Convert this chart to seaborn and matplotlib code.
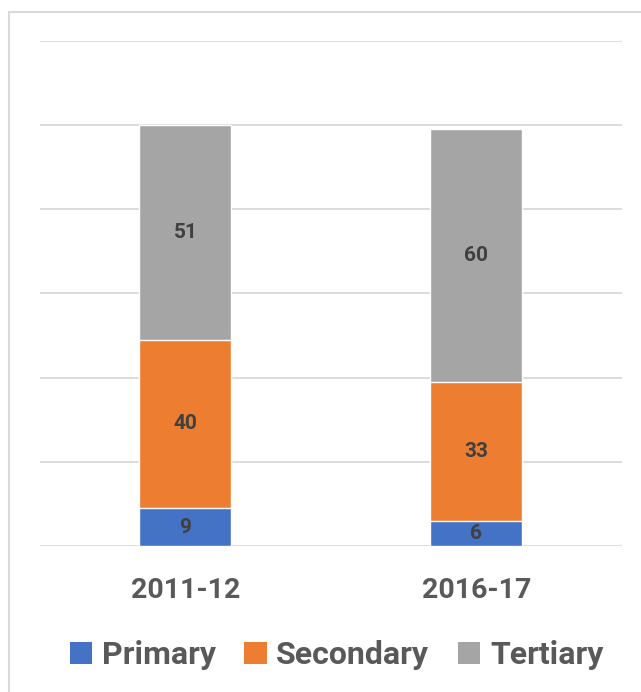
import numpy as np
import pandas as pd
import matplotlib
matplotlib.use('Agg')
import matplotlib.pyplot as plt
import seaborn as sns
from matplotlib.patches import Rectangle, Patch

years = ['2011-12', '2016-17']
primary = [9, 6]
secondary = [40, 33]
tertiary = [51, 60]
series_names = ['Primary', 'Secondary', 'Tertiary']
colors = ['#4472C4', '#ED7D31', '#A5A5A5']

sns.set_style('white')
plt.rcParams['font.family'] = ['Roboto', 'DejaVu Sans']

df = pd.DataFrame({'year': years, 'Primary': primary,
                   'Secondary': secondary, 'Tertiary': tertiary})
df['c1'] = df['Primary']
df['c2'] = df['c1'] + df['Secondary']
df['c3'] = df['c2'] + df['Tertiary']

fig = plt.figure(figsize=(6.41, 6.92), dpi=100)
ax = fig.add_axes([0.0624, 0.211, 0.9076, 0.7298])

# stacked: draw cumulative totals from top down
for col, c in zip(['c3', 'c2', 'c1'], colors[::-1]):
    sns.barplot(data=df, x='year', y=col, color=c, width=0.316,
                saturation=1, ax=ax, zorder=3)

ax.set_ylim(0, 120)
ax.set_xlim(-0.5, 1.5)
ax.set_yticks(np.arange(0, 121, 20))
ax.set_yticklabels([])
ax.yaxis.grid(True, color='#D9D9D9', lw=1.3, zorder=0)
ax.tick_params(length=0)
for s in ax.spines.values():
    s.set_visible(False)
ax.set_xlabel('')
ax.set_ylabel('')
ax.set_xticks([0, 1])
ax.set_xticklabels(years, fontsize=20.5, fontweight='bold', color='#595959')
ax.tick_params(axis='x', pad=22)

for i in range(len(years)):
    bottoms = [0, df['c1'][i], df['c2'][i]]
    vals = [primary[i], secondary[i], tertiary[i]]
    for b, v in zip(bottoms, vals):
        ax.text(i, b + v / 2, str(v), ha='center', va='center',
                fontsize=15, fontweight='bold', color='#404040', zorder=4)

handles = [Patch(facecolor=c, edgecolor='none') for c in colors]
fig.legend(handles, series_names, loc='center', bbox_to_anchor=(0.525, 0.053),
           ncol=3, frameon=False, handlelength=0.7, handleheight=0.7,
           handletextpad=0.3, columnspacing=0.9,
           prop={'size': 23, 'weight': 'bold'}, labelcolor='#595959')

fig.patches.append(Rectangle((9 / 641, -0.1), 1.2, 1 - 12 / 692 + 0.1,
                             transform=fig.transFigure, fill=False,
                             edgecolor='#D9D9D9', lw=1.5))

fig.savefig('out.png', dpi=100)
